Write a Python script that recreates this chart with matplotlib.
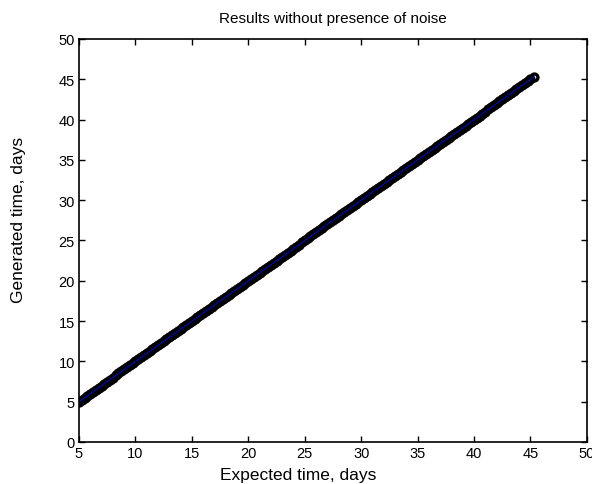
import numpy as np
import matplotlib.pyplot as plt

plt.rcParams['font.family'] = ['Liberation Sans', 'DejaVu Sans']

# expected vs generated arrival times (no noise, so they coincide)
expected = [
    5.0, 5.25, 5.5, 5.75, 6.0, 6.25, 6.5, 6.75, 7.0, 7.25, 7.5, 7.75, 8.0, 8.25, 8.5, 8.75,
    9.0, 9.25, 9.5, 9.75, 10.0, 10.25, 10.5, 10.75, 11.0, 11.25, 11.5, 11.75, 12.0, 12.25,
    12.5, 12.75, 13.0, 13.25, 13.5, 13.75, 14.0, 14.25, 14.5, 14.75, 15.0, 15.25, 15.5, 15.75,
    16.0, 16.25, 16.5, 16.75, 17.0, 17.25, 17.5, 17.75, 18.0, 18.25, 18.5, 18.75, 19.0, 19.25,
    19.5, 19.75, 20.0, 20.25, 20.5, 20.75, 21.0, 21.25, 21.5, 21.75, 22.0, 22.25, 22.5, 22.75,
    23.0, 23.25, 23.5, 23.75, 24.0, 24.25, 24.5, 24.75, 25.0, 25.25, 25.5, 25.75, 26.0, 26.25,
    26.5, 26.75, 27.0, 27.25, 27.5, 27.75, 28.0, 28.25, 28.5, 28.75, 29.0, 29.25, 29.5, 29.75,
    30.0, 30.25, 30.5, 30.75, 31.0, 31.25, 31.5, 31.75, 32.0, 32.25, 32.5, 32.75, 33.0, 33.25,
    33.5, 33.75, 34.0, 34.25, 34.5, 34.75, 35.0, 35.25, 35.5, 35.75, 36.0, 36.25, 36.5, 36.75,
    37.0, 37.25, 37.5, 37.75, 38.0, 38.25, 38.5, 38.75, 39.0, 39.25, 39.5, 39.75, 40.0, 40.25,
    40.5, 40.75, 41.0, 41.25, 41.5, 41.75, 42.0, 42.25, 42.5, 42.75, 43.0, 43.25, 43.5, 43.75,
    44.0, 44.25, 44.5, 44.75, 45.0, 45.3,
]
generated = [
    5.0, 5.25, 5.5, 5.75, 6.0, 6.25, 6.5, 6.75, 7.0, 7.25, 7.5, 7.75, 8.0, 8.25, 8.5, 8.75,
    9.0, 9.25, 9.5, 9.75, 10.0, 10.25, 10.5, 10.75, 11.0, 11.25, 11.5, 11.75, 12.0, 12.25,
    12.5, 12.75, 13.0, 13.25, 13.5, 13.75, 14.0, 14.25, 14.5, 14.75, 15.0, 15.25, 15.5, 15.75,
    16.0, 16.25, 16.5, 16.75, 17.0, 17.25, 17.5, 17.75, 18.0, 18.25, 18.5, 18.75, 19.0, 19.25,
    19.5, 19.75, 20.0, 20.25, 20.5, 20.75, 21.0, 21.25, 21.5, 21.75, 22.0, 22.25, 22.5, 22.75,
    23.0, 23.25, 23.5, 23.75, 24.0, 24.25, 24.5, 24.75, 25.0, 25.25, 25.5, 25.75, 26.0, 26.25,
    26.5, 26.75, 27.0, 27.25, 27.5, 27.75, 28.0, 28.25, 28.5, 28.75, 29.0, 29.25, 29.5, 29.75,
    30.0, 30.25, 30.5, 30.75, 31.0, 31.25, 31.5, 31.75, 32.0, 32.25, 32.5, 32.75, 33.0, 33.25,
    33.5, 33.75, 34.0, 34.25, 34.5, 34.75, 35.0, 35.25, 35.5, 35.75, 36.0, 36.25, 36.5, 36.75,
    37.0, 37.25, 37.5, 37.75, 38.0, 38.25, 38.5, 38.75, 39.0, 39.25, 39.5, 39.75, 40.0, 40.25,
    40.5, 40.75, 41.0, 41.25, 41.5, 41.75, 42.0, 42.25, 42.5, 42.75, 43.0, 43.25, 43.5, 43.75,
    44.0, 44.25, 44.5, 44.75, 45.0, 45.3,
]
# ideal line endpoints
ideal = [5.0, 45.3]

fig = plt.figure(figsize=(5.92, 4.85), dpi=100)
ax = fig.add_axes([0.1334, 0.0866, 0.858, 0.831])

ax.plot(expected, generated, 'o', mfc='none', mec='black', ms=5, mew=2.4)
ax.plot(ideal, ideal, '-', color='blue', lw=0.6)

ax.set_xlim(5, 50)
ax.set_ylim(0, 50)
ax.set_xticks(np.arange(5, 51, 5))
ax.set_yticks(np.arange(0, 51, 5))
ax.tick_params(direction='in', length=4, width=1, top=True, right=True, labelsize=10.5, pad=3)
for s in ax.spines.values():
    s.set_linewidth(1.2)

ax.set_title('Results without presence of noise', fontsize=11, pad=12)
ax.set_xlabel('Expected time, days', fontsize=12.5)
ax.set_ylabel('Generated time, days', fontsize=12.5)
ax.xaxis.set_label_coords(0.431, -0.062)
ax.yaxis.set_label_coords(-0.104, 0.553)

fig.savefig('out.png', dpi=100)
